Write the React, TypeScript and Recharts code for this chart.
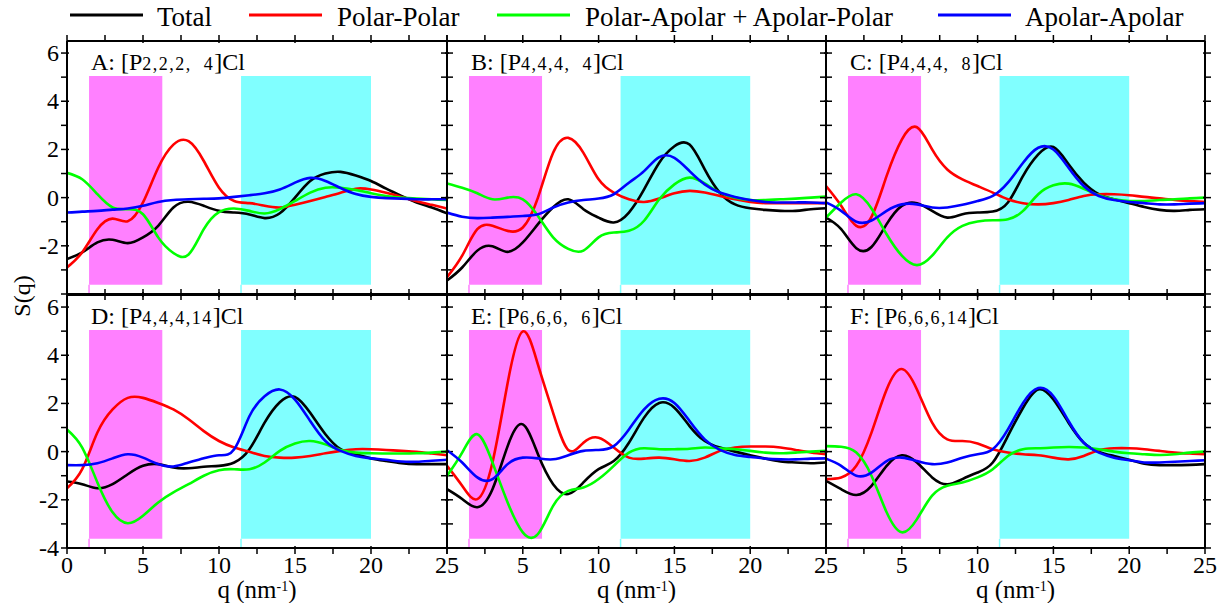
import React from 'react';
import { LineChart, Line, XAxis, YAxis, ReferenceArea, ReferenceLine } from 'recharts';

// q (nm^-1) sampling grid
const Q = [0, 1, 2, 3, 4, 5, 6, 7, 8, 9, 10, 11, 12, 13, 14, 15, 16, 17, 18, 19, 20, 21, 22, 23, 24, 25];

// Panel A: [P2,2,2,4]Cl
const A_TOTAL = [-2.55, -2.27, -1.86, -1.75, -1.89, -1.65, -1.17, -0.41, -0.17, -0.34, -0.55, -0.62, -0.7, -0.85, -0.65, 0.0, 0.69, 1.0, 1.07, 0.92, 0.69, 0.37, 0.07, -0.2, -0.41, -0.65];
const A_PP = [-2.9, -2.27, -1.31, -0.87, -0.98, -0.2, 1.24, 2.2, 2.34, 1.52, 0.41, -0.14, -0.23, -0.34, -0.41, -0.3, -0.14, 0.03, 0.2, 0.37, 0.34, 0.2, 0.03, -0.15, -0.3, -0.45];
const A_PA = [1.03, 0.76, 0.14, -0.41, -0.48, -0.69, -1.65, -2.3, -2.36, -1.31, -0.6, -0.45, -0.55, -0.66, -0.48, -0.14, 0.21, 0.41, 0.41, 0.32, 0.18, 0.07, 0.0, -0.04, -0.07, -0.1];
const A_AA = [-0.62, -0.58, -0.55, -0.5, -0.45, -0.34, -0.18, -0.1, -0.07, -0.05, -0.03, 0.03, 0.1, 0.18, 0.34, 0.62, 0.82, 0.69, 0.4, 0.15, 0.03, -0.02, -0.04, -0.07, -0.07, -0.07];

// Panel B: [P4,4,4,4]Cl
const B_TOTAL = [-3.44, -2.9, -2.2, -2.02, -2.25, -1.86, -1.1, -0.4, -0.07, -0.48, -0.83, -1.03, -0.62, 0.34, 1.45, 2.13, 2.2, 1.17, 0.2, -0.28, -0.44, -0.51, -0.55, -0.55, -0.48, -0.44];
const B_PP = [-3.3, -2.41, -1.31, -1.17, -1.38, -1.24, 0.0, 1.86, 2.48, 1.86, 0.76, 0.21, -0.07, -0.18, -0.04, 0.18, 0.28, 0.21, 0.07, -0.07, -0.18, -0.23, -0.23, -0.23, -0.23, -0.23];
const B_PA = [0.59, 0.41, 0.18, -0.07, 0.0, -0.07, -0.76, -1.65, -2.13, -2.2, -1.65, -1.45, -1.38, -0.96, -0.07, 0.55, 0.83, 0.59, 0.21, 0.0, -0.1, -0.1, -0.07, -0.04, 0.0, 0.04];
const B_AA = [-0.62, -0.79, -0.85, -0.83, -0.8, -0.76, -0.69, -0.41, -0.2, -0.1, -0.04, 0.14, 0.62, 1.1, 1.68, 1.65, 1.1, 0.55, 0.21, 0.03, -0.1, -0.18, -0.2, -0.2, -0.2, -0.23];

// Panel C: [P4,4,4,8]Cl
const C_TOTAL = [-0.83, -1.31, -2.1, -2.05, -1.1, -0.34, -0.23, -0.55, -0.83, -0.69, -0.62, -0.58, -0.2, 0.9, 1.79, 2.1, 1.38, 0.62, 0.14, -0.07, -0.23, -0.39, -0.51, -0.55, -0.51, -0.48];
const C_PP = [0.48, -0.34, -1.17, -0.8, 0.9, 2.41, 2.92, 2.0, 1.17, 0.76, 0.48, 0.21, -0.07, -0.23, -0.28, -0.23, -0.1, 0.07, 0.14, 0.14, 0.1, 0.03, -0.03, -0.1, -0.14, -0.18];
const C_PA = [-0.83, -0.2, 0.14, -0.45, -1.52, -2.41, -2.8, -2.41, -1.65, -1.17, -0.99, -0.94, -0.9, -0.55, 0.14, 0.51, 0.58, 0.37, 0.1, -0.07, -0.14, -0.14, -0.1, -0.07, -0.03, 0.0];
const C_AA = [-0.2, -0.55, -1.0, -0.95, -0.55, -0.28, -0.28, -0.41, -0.41, -0.3, -0.14, 0.07, 0.62, 1.45, 2.07, 2.0, 1.24, 0.48, 0.07, -0.1, -0.18, -0.23, -0.28, -0.28, -0.25, -0.23];

// Panel D: [P4,4,4,14]Cl
const D_TOTAL = [-1.24, -1.35, -1.52, -1.35, -0.94, -0.59, -0.52, -0.66, -0.69, -0.63, -0.59, -0.45, 0.1, 1.2, 2.05, 2.27, 1.61, 0.72, 0.1, -0.11, -0.28, -0.39, -0.48, -0.52, -0.52, -0.52];
const D_PP = [-1.52, -0.73, 0.79, 1.75, 2.23, 2.23, 2.02, 1.75, 1.34, 0.85, 0.44, 0.17, -0.01, -0.18, -0.25, -0.25, -0.18, -0.07, 0.03, 0.1, 0.1, 0.07, 0.03, -0.01, -0.08, -0.15];
const D_PA = [0.92, 0.17, -1.28, -2.52, -2.97, -2.66, -2.11, -1.69, -1.35, -1.0, -0.77, -0.73, -0.73, -0.45, 0.03, 0.34, 0.44, 0.3, 0.07, -0.04, -0.07, -0.08, -0.08, -0.07, -0.04, 0.0];
const D_AA = [-0.56, -0.56, -0.48, -0.28, -0.11, -0.25, -0.52, -0.62, -0.45, -0.28, -0.15, 0.1, 1.47, 2.3, 2.58, 2.16, 1.27, 0.44, 0.03, -0.18, -0.28, -0.34, -0.41, -0.42, -0.38, -0.34];

// Panel E: [P6,6,6,6]Cl
const E_TOTAL = [-1.56, -1.97, -2.31, -1.56, 0.23, 1.13, -0.11, -1.35, -1.76, -1.28, -0.73, -0.39, 0.37, 1.41, 2.02, 1.82, 1.06, 0.44, 0.17, 0.0, -0.15, -0.29, -0.41, -0.45, -0.48, -0.45];
const E_PP = [-0.59, -1.42, -1.97, -0.45, 2.85, 4.99, 3.61, 1.61, 0.07, 0.37, 0.58, 0.17, -0.25, -0.29, -0.25, -0.32, -0.39, -0.25, 0.03, 0.17, 0.21, 0.21, 0.17, 0.07, -0.04, -0.11];
const E_PA = [-1.0, -0.04, 0.72, -0.45, -2.11, -3.35, -3.42, -2.25, -1.63, -1.49, -1.14, -0.59, -0.04, 0.14, 0.1, 0.1, 0.12, 0.17, 0.14, 0.1, 0.03, -0.04, -0.07, -0.04, 0.0, 0.03];
const E_AA = [0.06, -0.45, -1.07, -1.14, -0.52, -0.25, -0.28, -0.32, -0.15, 0.03, 0.07, 0.23, 0.92, 1.75, 2.19, 2.02, 1.27, 0.51, 0.07, -0.14, -0.22, -0.29, -0.32, -0.32, -0.29, -0.28];

// Panel F: [P6,6,6,14]Cl
const F_TOTAL = [-1.21, -1.56, -1.8, -1.42, -0.59, -0.15, -0.45, -1.07, -1.36, -1.14, -0.87, -0.45, 0.65, 1.82, 2.58, 2.16, 1.2, 0.37, -0.01, -0.18, -0.34, -0.5, -0.56, -0.56, -0.55, -0.52];
const F_PP = [-1.14, -1.07, -0.59, 0.79, 2.58, 3.43, 2.58, 1.2, 0.51, 0.44, 0.34, 0.1, -0.04, -0.11, -0.15, -0.25, -0.32, -0.18, 0.06, 0.14, 0.14, 0.1, 0.03, -0.04, -0.08, -0.11];
const F_PA = [0.23, 0.2, -0.04, -1.0, -2.52, -3.35, -2.8, -1.83, -1.42, -1.28, -1.07, -0.73, -0.18, 0.1, 0.14, 0.17, 0.19, 0.17, 0.1, 0.0, -0.07, -0.11, -0.14, -0.11, -0.04, 0.0];
const F_AA = [-0.29, -0.59, -1.0, -0.87, -0.39, -0.25, -0.39, -0.52, -0.45, -0.25, -0.11, 0.1, 0.92, 2.02, 2.64, 2.3, 1.27, 0.37, -0.04, -0.25, -0.36, -0.45, -0.45, -0.42, -0.39, -0.36];

// Axes
const X_TICKS = [0, 2.5, 5, 7.5, 10, 12.5, 15, 17.5, 20, 22.5, 25];
const Y_TICKS = [-4, -3, -2, -1, 0, 1, 2, 3, 4, 5, 6];
const X_DOMAIN = [0, 25];
const Y_DOMAIN = [-4, 6.5];

// Shaded regions [x1, x2, y1, y2]
const MAGENTA_BAND = [1.45, 6.27, -3.62, 5.05];
const CYAN_BAND = [11.45, 20.0, -3.62, 5.05];

// Legend
const SERIES_NAMES = ['Total', 'Polar-Polar', 'Polar-Apolar + Apolar-Polar', 'Apolar-Apolar'];
const SERIES_KEYS = ['total', 'pp', 'pa', 'aa'];
const SERIES_COLORS = ['#000000', '#ff0000', '#00ff00', '#0000ff'];

const FONT = '"Liberation Serif", "Times New Roman", serif';

type PanelDef = {
  letter: string;
  sub: string;
  series: number[][];
  col: number;
  row: number;
  yLabels: number[];
  xLabels: number[];
};

const PANELS: PanelDef[] = [
  { letter: 'A', sub: '2,2,2,\u00A0\u00A04', series: [A_TOTAL, A_PP, A_PA, A_AA], col: 0, row: 0, yLabels: [-2, 0, 2, 4, 6], xLabels: [] },
  { letter: 'B', sub: '4,4,4,\u00A0\u00A04', series: [B_TOTAL, B_PP, B_PA, B_AA], col: 1, row: 0, yLabels: [], xLabels: [] },
  { letter: 'C', sub: '4,4,4,\u00A0\u00A08', series: [C_TOTAL, C_PP, C_PA, C_AA], col: 2, row: 0, yLabels: [], xLabels: [] },
  { letter: 'D', sub: '4,4,4,14', series: [D_TOTAL, D_PP, D_PA, D_AA], col: 0, row: 1, yLabels: [-4, -2, 0, 2, 4, 6], xLabels: [0, 5, 10, 15, 20, 25] },
  { letter: 'E', sub: '6,6,6,\u00A0\u00A06', series: [E_TOTAL, E_PP, E_PA, E_AA], col: 1, row: 1, yLabels: [], xLabels: [5, 10, 15, 20, 25] },
  { letter: 'F', sub: '6,6,6,14', series: [F_TOTAL, F_PP, F_PA, F_AA], col: 2, row: 1, yLabels: [], xLabels: [5, 10, 15, 20, 25] },
];

const COL_LEFT = [67, 447, 826];
const COL_WIDTH = [380, 379, 379];
const ROW_TOP = [41, 295];
const PLOT_H = 253;
// outer space around each plot area (axes take 1px each inside this)
const M = { top: 10, right: 20, bottom: 32, left: 70 };

const makeTick = (side: 'bottom' | 'top' | 'left' | 'right', labels: number[]) => (props: any) => {
  const { x, y, payload } = props;
  const v = payload.value;
  const horiz = side === 'bottom' || side === 'top';
  const major = horiz ? Math.abs(v % 5) < 1e-6 : Math.abs(v % 2) < 1e-6;
  const len = major ? 8 : 5;
  let x2 = x;
  let y2 = y;
  if (side === 'bottom') y2 = y - len;
  if (side === 'top') y2 = y + len;
  if (side === 'left') x2 = x + len;
  if (side === 'right') x2 = x - len;
  const show = labels.includes(v);
  return (
    <g>
      <line x1={x} y1={y} x2={x2} y2={y2} stroke="#000" strokeWidth={1.5} />
      {show && side === 'bottom' && (
        <text x={x} y={y + 19} textAnchor="middle" fontSize={24} fontFamily={FONT} fill="#000">{v}</text>
      )}
      {show && side === 'left' && (
        <text x={x - 2} y={y + 8} textAnchor="end" fontSize={24} fontFamily={FONT} fill="#000">{v}</text>
      )}
    </g>
  );
};

function Panel({ p }: { p: PanelDef }) {
  const left = COL_LEFT[p.col];
  const top = ROW_TOP[p.row];
  const w = COL_WIDTH[p.col];
  const rows = Q.map((q, i) => ({
    q,
    total: p.series[0][i],
    pp: p.series[1][i],
    pa: p.series[2][i],
    aa: p.series[3][i],
  }));
  const axisLine = { stroke: '#000', strokeWidth: 2 };
  const margin = { top: M.top - 1, right: M.right - 1, bottom: M.bottom - 1, left: M.left - 1 };
  return (
    <div style={{ position: 'absolute', left: left - M.left, top: top - M.top }}>
      <LineChart width={w + M.left + M.right} height={PLOT_H + M.top + M.bottom} data={rows} margin={margin}>
        <ReferenceArea xAxisId="b" yAxisId="l" x1={MAGENTA_BAND[0]} x2={MAGENTA_BAND[1]} y1={MAGENTA_BAND[2]} y2={MAGENTA_BAND[3]} fill="#ff80ff" fillOpacity={1} stroke="none" />
        <ReferenceArea xAxisId="b" yAxisId="l" x1={CYAN_BAND[0]} x2={CYAN_BAND[1]} y1={CYAN_BAND[2]} y2={CYAN_BAND[3]} fill="#80ffff" fillOpacity={1} stroke="none" />
        <ReferenceLine xAxisId="b" yAxisId="l" segment={[{ x: MAGENTA_BAND[0], y: Y_DOMAIN[0] }, { x: MAGENTA_BAND[0], y: MAGENTA_BAND[2] }]} stroke="#ff80ff" strokeWidth={1.5} />
        <ReferenceLine xAxisId="b" yAxisId="l" segment={[{ x: CYAN_BAND[0], y: Y_DOMAIN[0] }, { x: CYAN_BAND[0], y: CYAN_BAND[2] }]} stroke="#80ffff" strokeWidth={1.5} />
        <XAxis xAxisId="b" dataKey="q" type="number" domain={X_DOMAIN} ticks={X_TICKS} interval={0} orientation="bottom" height={1} tickLine={false} tickMargin={0} axisLine={axisLine} tick={makeTick('bottom', p.xLabels)} allowDataOverflow />
        <XAxis xAxisId="t" dataKey="q" type="number" domain={X_DOMAIN} ticks={X_TICKS} interval={0} orientation="top" height={1} tickLine={false} tickMargin={0} axisLine={axisLine} tick={makeTick('top', [])} allowDataOverflow />
        <YAxis yAxisId="l" type="number" domain={Y_DOMAIN} ticks={Y_TICKS} interval={0} orientation="left" width={1} tickLine={false} tickMargin={0} axisLine={axisLine} tick={makeTick('left', p.yLabels)} allowDataOverflow />
        <YAxis yAxisId="r" type="number" domain={Y_DOMAIN} ticks={Y_TICKS} interval={0} orientation="right" width={1} tickLine={false} tickMargin={0} axisLine={axisLine} tick={makeTick('right', [])} allowDataOverflow />
        {SERIES_KEYS.map((k, i) => (
          <Line key={k} xAxisId="b" yAxisId="l" type="natural" dataKey={k} stroke={SERIES_COLORS[i]} strokeWidth={2.6} dot={false} activeDot={false} isAnimationActive={false} />
        ))}
      </LineChart>
    </div>
  );
}

const LEGEND_LINE_X = [70, 249, 497, 938];
const LEGEND_TEXT_X = [157, 337, 585, 1025];

export default function App() {
  return (
    <div style={{ position: 'absolute', left: 0, top: 0, width: 1227, height: 603, background: '#fff', overflow: 'hidden' }}>
      {PANELS.map((p) => (
        <Panel key={p.letter} p={p} />
      ))}
      <svg width={1227} height={603} style={{ position: 'absolute', left: 0, top: 0, pointerEvents: 'none' }}>
        {SERIES_NAMES.map((name, i) => (
          <g key={name}>
            <line x1={LEGEND_LINE_X[i]} x2={LEGEND_LINE_X[i] + 73} y1={15} y2={15} stroke={SERIES_COLORS[i]} strokeWidth={3} />
            <text x={LEGEND_TEXT_X[i]} y={26} fontSize={27} fontFamily={FONT} fill="#000">{name}</text>
          </g>
        ))}
        {PANELS.map((p) => (
          <text key={p.letter} x={COL_LEFT[p.col] + 24} y={ROW_TOP[p.row] + 29} fontSize={24} fontFamily={FONT} fill="#000">
            {p.letter}: [P<tspan fontSize={18} letterSpacing={1.5}>{p.sub}</tspan>]Cl
          </text>
        ))}
        <text x={30} y={296} transform="rotate(-90 30 296)" textAnchor="middle" fontSize={24} fontFamily={FONT} fill="#000">S(q)</text>
        {[0, 1, 2].map((c) => (
          <text key={c} x={COL_LEFT[c] + COL_WIDTH[c] / 2} y={598} textAnchor="middle" fontSize={25} fontFamily={FONT} fill="#000">
            q (nm<tspan fontSize={14} dy={-7}>-1</tspan><tspan dy={7}>)</tspan>
          </text>
        ))}
      </svg>
    </div>
  );
}
